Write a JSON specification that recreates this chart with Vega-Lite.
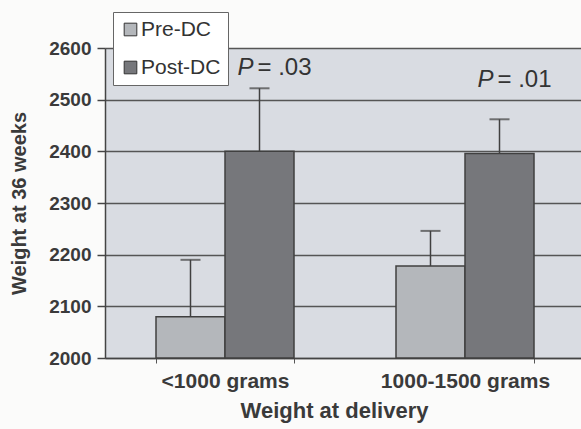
{
  "$schema": "https://vega.github.io/schema/vega-lite/v6.json",
  "width": 480,
  "height": 310,
  "autosize": "none",
  "padding": {"left": 105, "top": 48, "right": 0, "bottom": 71},
  "background": "#fbfbfa",
  "config": {
    "font": "Liberation Sans",
    "view": {"fill": "#d9dce2", "stroke": null}
  },
  "datasets": {
    "bars": [
      {"group": "<1000 grams", "series": "Pre-DC", "value": 2080, "upper": 2190},
      {"group": "<1000 grams", "series": "Post-DC", "value": 2400, "upper": 2522},
      {"group": "1000-1500 grams", "series": "Pre-DC", "value": 2178, "upper": 2246},
      {"group": "1000-1500 grams", "series": "Post-DC", "value": 2396, "upper": 2462}
    ],
    "notes": [
      {"group": "<1000 grams", "series": "Post-DC", "labelY": 2561, "p": "P", "rest": "= .03"},
      {"group": "1000-1500 grams", "series": "Post-DC", "labelY": 2538, "p": "P", "rest": "= .01"}
    ]
  },
  "encoding": {
    "x": {
      "field": "group",
      "type": "nominal",
      "sort": ["<1000 grams", "1000-1500 grams"],
      "scale": {"paddingInner": 0.425, "paddingOuter": 0.2125},
      "axis": {
        "title": "Weight at delivery",
        "titleFontSize": 22,
        "titleFontWeight": "bold",
        "titleColor": "#3a3a3a",
        "titleX": 229,
        "titlePadding": 9,
        "labelAngle": 0,
        "labelFontSize": 21,
        "labelFontWeight": "bold",
        "labelColor": "#3a3a3a",
        "labelPadding": 7,
        "tickBand": "extent",
        "tickSize": 5,
        "tickColor": "#555",
        "domainColor": "#444",
        "domainWidth": 1.5
      }
    }
  },
  "layer": [
    {
      "data": {"name": "bars"},
      "mark": {"type": "bar", "stroke": "#404040", "strokeWidth": 1.5},
      "encoding": {
        "xOffset": {"field": "series", "type": "nominal", "sort": ["Pre-DC", "Post-DC"]},
        "y": {
          "field": "value",
          "type": "quantitative",
          "scale": {"domain": [2000, 2600], "nice": false, "zero": false},
          "axis": {
            "title": "Weight at 36 weeks",
            "titleFontSize": 20,
            "titleFontWeight": "bold",
            "titleColor": "#3a3a3a",
            "titlePadding": 19,
            "values": [2000, 2100, 2200, 2300, 2400, 2500, 2600],
            "format": "d",
            "labelFontSize": 19,
            "labelFontWeight": "bold",
            "labelColor": "#3a3a3a",
            "labelPadding": 6,
            "tickSize": 8,
            "tickColor": "#444",
            "tickWidth": 1.5,
            "domainColor": "#444",
            "domainWidth": 1.5,
            "grid": true,
            "gridColor": "#555",
            "gridWidth": 1.5,
            "zindex": 0
          }
        },
        "y2": {"datum": 2000},
        "color": {
          "field": "series",
          "type": "nominal",
          "sort": ["Pre-DC", "Post-DC"],
          "scale": {"domain": ["Pre-DC", "Post-DC"], "range": ["#b4b7bb", "#76777b"]},
          "legend": {
            "title": null,
            "orient": "none",
            "legendX": 8,
            "legendY": -36,
            "fillColor": "#ffffff",
            "strokeColor": "#666",
            "padding": 7,
            "symbolType": "square",
            "symbolSize": 160,
            "symbolStrokeColor": "#333",
            "symbolStrokeWidth": 1,
            "labelFontSize": 21,
            "labelColor": "#333",
            "labelOffset": 0,
            "rowPadding": 16
          }
        }
      }
    },
    {
      "data": {"name": "bars"},
      "mark": {"type": "rule", "color": "#404040", "strokeWidth": 1.5},
      "encoding": {
        "xOffset": {"field": "series", "type": "nominal", "sort": ["Pre-DC", "Post-DC"]},
        "y": {"field": "value", "type": "quantitative"},
        "y2": {"field": "upper"}
      }
    },
    {
      "data": {"name": "bars"},
      "mark": {"type": "tick", "color": "#404040", "size": 20, "thickness": 2},
      "encoding": {
        "xOffset": {"field": "series", "type": "nominal", "sort": ["Pre-DC", "Post-DC"]},
        "y": {"field": "upper", "type": "quantitative"}
      }
    },
    {
      "data": {"name": "notes"},
      "mark": {"type": "text", "align": "right", "baseline": "middle", "fontSize": 24, "fontStyle": "italic", "color": "#333", "dx": -6},
      "encoding": {
        "xOffset": {"field": "series", "type": "nominal", "scale": {"domain": ["Pre-DC", "Post-DC"]}},
        "y": {"field": "labelY", "type": "quantitative"},
        "text": {"field": "p"}
      }
    },
    {
      "data": {"name": "notes"},
      "mark": {"type": "text", "align": "left", "baseline": "middle", "fontSize": 24, "color": "#333", "dx": -2},
      "encoding": {
        "xOffset": {"field": "series", "type": "nominal", "scale": {"domain": ["Pre-DC", "Post-DC"]}},
        "y": {"field": "labelY", "type": "quantitative"},
        "text": {"field": "rest"}
      }
    }
  ]
}
